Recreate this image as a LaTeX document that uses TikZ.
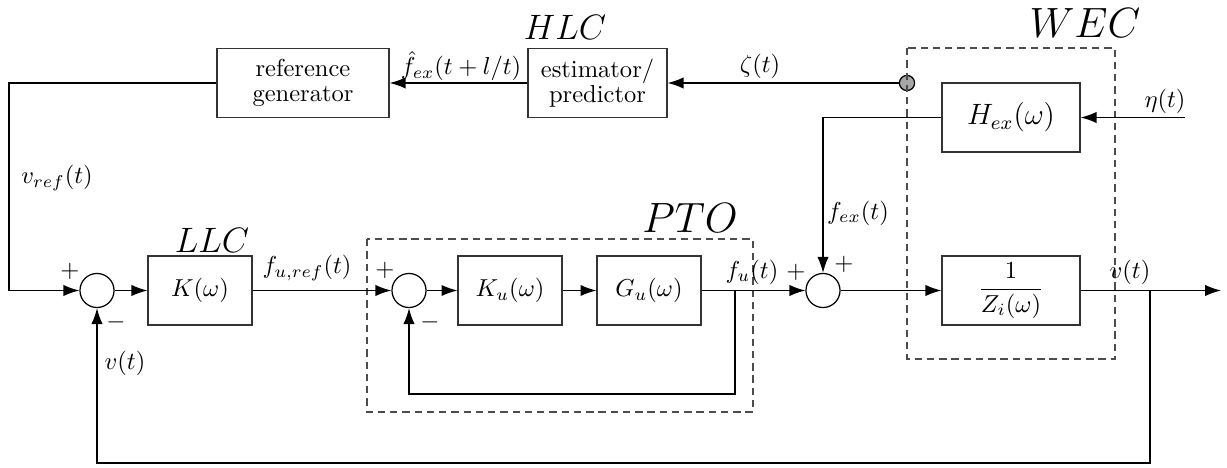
\documentclass[tikz,border=0pt]{standalone}
\usepackage{amsmath}
\usetikzlibrary{arrows.meta}
\begin{document}
\begin{tikzpicture}[x=0.408pt,y=-0.408pt,
  every path/.style={line width=0.5pt},
  >={Latex[length=6.5pt,width=4.6pt]},
  blk/.style={draw=black!80, minimum height=28.2pt, inner sep=1pt, align=center},
  sumc/.style={draw, circle, minimum size=13.9pt, inner sep=0pt},
  grp/.style={draw=black!70, dash pattern=on 3pt off 2pt},
  lbl/.style={inner sep=1pt},
  biglbl/.style={inner sep=1pt, font=\fontsize{14.4}{16}\selectfont},
  hugelbl/.style={inner sep=1pt, font=\fontsize{17.5}{20}\selectfont}]
\useasboundingbox (0,0) rectangle (1227,468);

% blocks
\node[blk, minimum width=70.2pt, font=\linespread{0.85}\selectfont] (rg) at (303,83) {reference\\generator};
\node[blk, minimum width=56.7pt, font=\linespread{0.85}\selectfont] (est) at (597.5,83) {estimator/\\predictor};
\node[blk, minimum width=56.3pt, font=\fontsize{11.5}{13}\selectfont] (H) at (1011,117.5) {$H_{ex}(\omega)$};
\node[blk, minimum width=42.4pt] (K) at (200,290.5) {$K(\omega)$};
\node[blk, minimum width=42.4pt] (Ku) at (510,290.5) {$K_u(\omega)$};
\node[blk, minimum width=42.4pt] (Gu) at (649,290.5) {$G_u(\omega)$};
\node[blk, minimum width=56.3pt] (Z) at (1011,290.5) {$\dfrac{1}{Z_i(\omega)}$};

% sums
\node[sumc] (s1) at (97,290.5) {};
\node[sumc] (s2) at (409,290.5) {};
\node[sumc] (s3) at (823,290.5) {};

% pick-off dot
\node[draw, circle, fill=black!35, minimum size=6.2pt, inner sep=0pt] (dot) at (907,83) {};

% dashed groups
\draw[grp] (367,239) rectangle (753,412);
\draw[grp] (907,48) rectangle (1115,359);

% group labels
\node[biglbl] (hlc) at (565,27) {$HLC$};
\node[biglbl] (llc) at (212,240) {$LLC$};
\node[hugelbl] (pto) at (690,218) {$PTO$};
\node[hugelbl] (wec) at (1085,23) {$WEC$};

% coordinates
\coordinate (c1) at (9,290.5);
\coordinate (eta) at (1185,117.5);
\coordinate (b1) at (735,290.5);
\coordinate (fb1) at (735,394);
\coordinate (b2) at (1150,290.5);
\coordinate (fb2) at (1150,463);
\coordinate (out) at (1221,290.5);

% connectors
\draw[->] (dot) -- (est);
\draw[->] (est) -- (rg);
\draw[->] (rg.west) -| (c1) -- (s1);
\draw[->] (s1) -- (K);
\draw[->] (K) -- (s2);
\draw[->] (s2) -- (Ku);
\draw[->] (Ku) -- (Gu);
\draw[->] (Gu) -- (s3);
\draw[->] (b1) -- (fb1) -| (s2);
\draw[->] (s3) -- (Z);
\draw[->] (Z) -- (out);
\draw[->] (b2) -- (fb2) -| (s1);
\draw[->] (eta) -- (H);
\draw[->] (H.west) -| (s3);

% signal labels
\node[lbl] (lfhat) at (461,66) {$\hat{f}_{ex}(t+l/t)$};
\node[lbl] (lzeta) at (760,66) {$\zeta(t)$};
\node[lbl] (leta) at (1165,101) {$\eta(t)$};
\node[lbl] (lfex) at (858,213) {$f_{ex}(t)$};
\node[lbl] (lvref) at (57,178) {$v_{ref}(t)$};
\node[lbl] (lfuref) at (307,268) {$f_{u,ref}(t)$};
\node[lbl] (lfu) at (752,272) {$f_u(t)$};
\node[lbl] (lvout) at (1130,272) {$v(t)$};
\node[lbl] (lv) at (125,363) {$v(t)$};

% signs
\node[lbl] (p1) at (70,271) {$+$};
\node[lbl] (m1) at (116,322) {$-$};
\node[lbl] (p2) at (385,270) {$+$};
\node[lbl] (m2) at (430,322) {$-$};
\node[lbl] (p3) at (796,272) {$+$};
\node[lbl] (p3b) at (844,264) {$+$};
\end{tikzpicture}
\end{document}
